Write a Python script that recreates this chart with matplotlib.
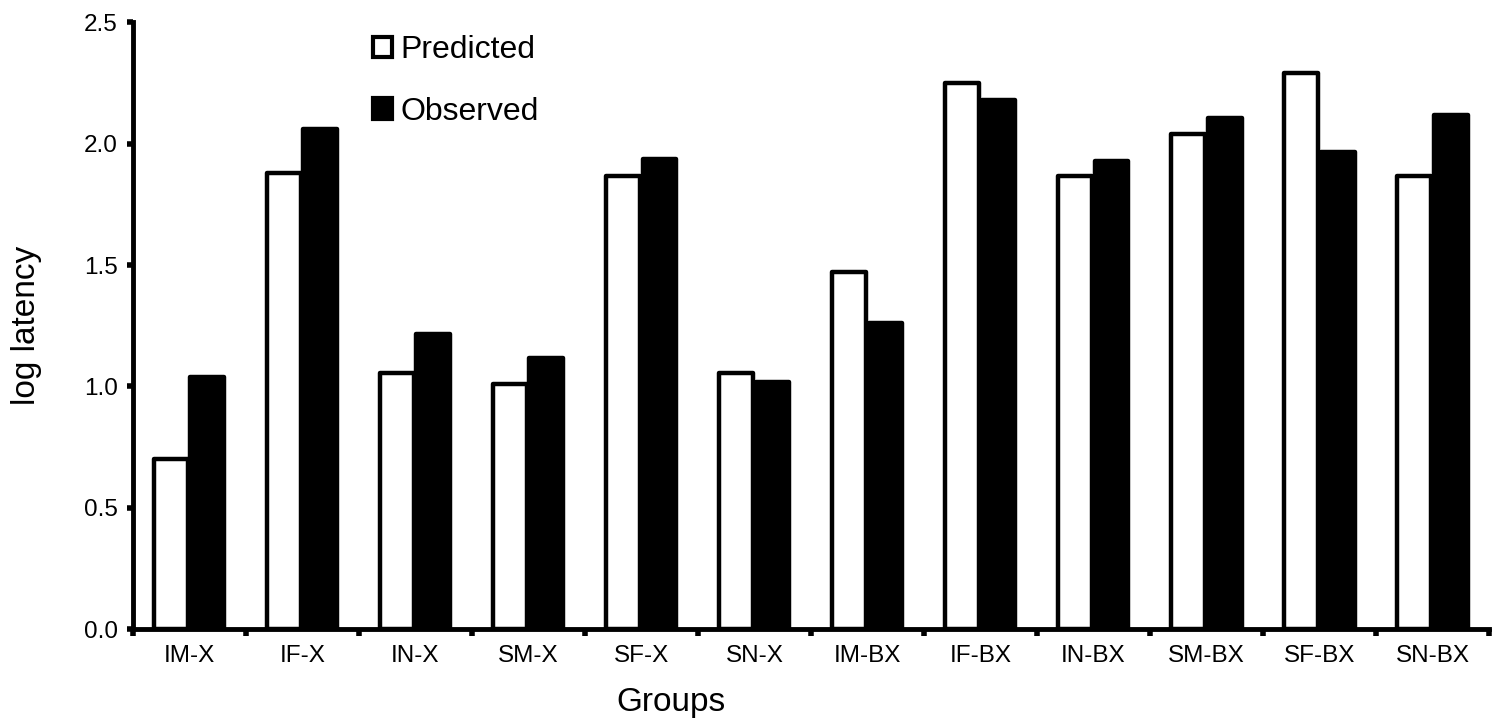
import matplotlib
matplotlib.use("Agg")
import matplotlib.pyplot as plt
import numpy as np
from matplotlib.patches import Patch

plt.rcParams['font.family'] = ['Liberation Sans', 'DejaVu Sans']

groups = ["IM-X", "IF-X", "IN-X", "SM-X", "SF-X", "SN-X",
          "IM-BX", "IF-BX", "IN-BX", "SM-BX", "SF-BX", "SN-BX"]
predicted = [0.70, 1.88, 1.055, 1.01, 1.866, 1.055, 1.47, 2.25, 1.866, 2.04, 2.29, 1.866]
observed = [1.04, 2.06, 1.215, 1.116, 1.936, 1.017, 1.26, 2.18, 1.93, 2.105, 1.965, 2.117]
yticks = [0.0, 0.5, 1.0, 1.5, 2.0, 2.5]

fig = plt.figure(figsize=(14.92, 7.2), dpi=100)
ax = fig.add_axes([0.089, 0.126, 0.909, 0.843])

x = np.arange(len(groups))
w = 0.3
ax.bar(x - 0.16, predicted, w, color='white', edgecolor='black', linewidth=3.2,
       joinstyle='round', zorder=2)
ax.bar(x + 0.16, observed, w, color='black', edgecolor='black', linewidth=3.2,
       joinstyle='round', zorder=2)

ax.set_xlim(-0.5, len(groups) - 0.5)
ax.set_ylim(0, 2.5)
ax.set_yticks(yticks)
ax.set_yticklabels([f"{v:.1f}" for v in yticks], fontsize=17.5)

ax.set_xticks(np.arange(len(groups) + 1) - 0.5)
ax.set_xticklabels([])
ax.set_xticks(x, minor=True)
ax.set_xticklabels(groups, minor=True, fontsize=17.5)
ax.tick_params(axis='x', which='minor', length=0, pad=11)
ax.tick_params(axis='x', which='major', length=5, width=4, direction='out')
ax.tick_params(axis='y', length=4, width=4, direction='out', pad=7)

for s in ['top', 'right']:
    ax.spines[s].set_visible(False)
for s in ['left', 'bottom']:
    ax.spines[s].set_linewidth(3.5)

ax.set_xlabel("Groups", fontsize=24)
ax.xaxis.set_label_coords(0.397, -0.095)
ax.set_ylabel("log latency", fontsize=24)
ax.yaxis.set_label_coords(-0.067, 0.5)

handles = [Patch(facecolor='white', edgecolor='black', linewidth=3),
           Patch(facecolor='black', edgecolor='black', linewidth=3)]
leg = fig.legend(handles, ["Predicted", "Observed"], loc='upper left',
                 bbox_to_anchor=(373 / 1492, 1 - 35 / 720), frameon=False, fontsize=23,
                 handlelength=0.6, handleheight=0.6, handletextpad=0.25,
                 labelspacing=0.99, borderpad=0, borderaxespad=0)

fig.savefig("out.png", dpi=100)
